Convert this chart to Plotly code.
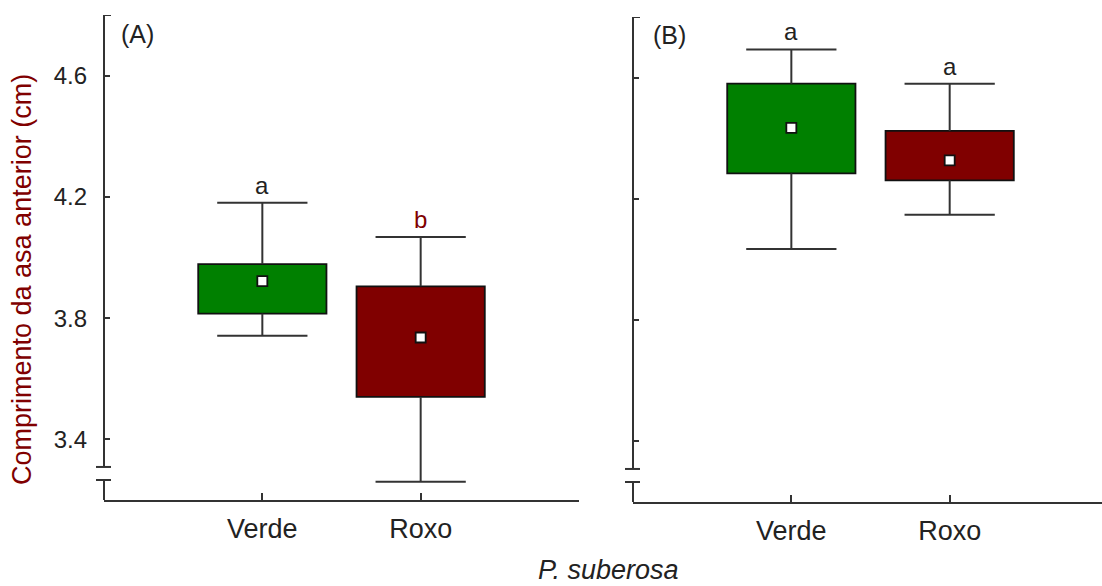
import plotly.graph_objects as go

# ---- data ----
categories = ["Verde", "Roxo"]
panels = ["(A)", "(B)"]
# panel A
a_whisk_low = [3.742, 3.260]
a_box_low = [3.815, 3.540]
a_mean = [3.922, 3.736]
a_box_high = [3.978, 3.905]
a_whisk_high = [4.181, 4.068]
a_letters = ["a", "b"]
# panel B
b_whisk_low = [4.035, 4.148]
b_box_low = [4.284, 4.261]
b_mean = [4.434, 4.327]
b_box_high = [4.580, 4.424]
b_whisk_high = [4.693, 4.580]
b_letters = ["a", "a"]

y_ticks = [3.4, 3.8, 4.2, 4.6]
y_range = [3.2, 4.8]
break_low, break_high = 3.266, 3.309

fills = ["#008000", "#800000"]
FONT = "Liberation Sans, Arial, sans-serif"
W, H = 1102, 586

fig = go.Figure()

box_w = 0.81
cap_half = 0.285
xpos = [0, 1]

panel_data = [
    (a_whisk_low, a_box_low, a_mean, a_box_high, a_whisk_high, a_letters, "x", "y"),
    (b_whisk_low, b_box_low, b_mean, b_box_high, b_whisk_high, b_letters, "x2", "y2"),
]

for (wl, bl, mn, bh, wh, letters, xa, ya) in panel_data:
    # whiskers
    for i, x in enumerate(xpos):
        xs = [x, x, None, x - cap_half, x + cap_half, None,
              x, x, None, x - cap_half, x + cap_half]
        ys = [bh[i], wh[i], None, wh[i], wh[i], None,
              bl[i], wl[i], None, wl[i], wl[i]]
        fig.add_trace(go.Scatter(x=xs, y=ys, mode="lines",
                                 line=dict(color="#333333", width=2),
                                 xaxis=xa, yaxis=ya, showlegend=False,
                                 hoverinfo="skip"))
    # boxes
    fig.add_trace(go.Bar(x=xpos, y=[h - l for h, l in zip(bh, bl)], base=bl,
                         width=box_w, marker=dict(color=fills, line=dict(color="#111111", width=1.8)),
                         xaxis=xa, yaxis=ya, showlegend=False))
    # means
    fig.add_trace(go.Scatter(x=xpos, y=mn, mode="markers",
                             marker=dict(symbol="square", size=10, color="white",
                                         line=dict(color="#111111", width=1.8)),
                             xaxis=xa, yaxis=ya, showlegend=False))
    # letters
    for i, x in enumerate(xpos):
        col = "#800000" if letters[i] == "b" else "#222222"
        fig.add_annotation(x=x, y=wh[i], xref=xa, yref=ya, text=letters[i],
                           showarrow=False, yanchor="bottom", yshift=2,
                           font=dict(family=FONT, size=24, color=col))

# layout geometry (pixels)
ax_left = [104, 633]
ax_right = [579, 1102]
ax_bottom = [500, 502]
ax_top = [15, 17]
xr_right = [2.0, (1102 - 792) / 158]

common_x = dict(range=[-1, 2], tickmode="array", tickvals=[-1, 0, 1, 2],
                ticktext=["", "Verde", "Roxo", ""], ticks="inside", ticklen=7,
                tickwidth=2, tickcolor="#333333", showline=True, linecolor="#333333",
                linewidth=2, showgrid=False, zeroline=False,
                tickfont=dict(family=FONT, size=27, color="#222222"),
                ticklabelstandoff=4)
common_y = dict(range=y_range, tickmode="array", tickvals=y_ticks,
                ticks="inside", ticklen=6, tickwidth=2, tickcolor="#333333",
                showline=False, showgrid=False, zeroline=False,
                tickfont=dict(family=FONT, size=24, color="#222222"),
                ticklabelstandoff=16)

fig.update_layout(
    width=W, height=H, margin=dict(l=0, r=0, t=0, b=0),
    paper_bgcolor="white", plot_bgcolor="white", barmode="overlay",
    xaxis=dict(common_x, domain=[ax_left[0] / W, ax_right[0] / W], anchor="y"),
    yaxis=dict(common_y, domain=[1 - ax_bottom[0] / H, 1 - ax_top[0] / H], anchor="x",
               ticktext=[str(t) for t in y_ticks]),
    xaxis2=dict(common_x, domain=[ax_left[1] / W, 1.0], anchor="y2",
                range=[-1, xr_right[1]]),
    yaxis2=dict(common_y, domain=[1 - ax_bottom[1] / H, 1 - ax_top[1] / H], anchor="x2",
                showticklabels=False),
)

# broken y axis lines
shapes = []
for k, (yr, px) in enumerate([("y", ax_left[0]), ("y2", ax_left[1])]):
    xp = px / W
    line = dict(color="#333333", width=2)
    shapes.append(dict(type="line", xref="paper", yref=yr, x0=xp, x1=xp,
                       y0=y_range[0], y1=break_low, line=line))
    shapes.append(dict(type="line", xref="paper", yref=yr, x0=xp, x1=xp,
                       y0=break_high, y1=y_range[1], line=line))
    for yb in (break_low, break_high):
        shapes.append(dict(type="line", xref="paper", yref=yr, x0=(px - 8) / W,
                           x1=(px + 7) / W, y0=yb, y1=yb, line=line))
    shapes.append(dict(type="line", xref="paper", yref=yr, x0=xp, x1=(px + 7) / W,
                       y0=y_range[1], y1=y_range[1], line=line))
fig.update_layout(shapes=shapes)

# panel labels
for lab, px, py in [(panels[0], 119, 34), (panels[1], 651, 35)]:
    fig.add_annotation(x=px / W, y=1 - py / H, xref="paper", yref="paper", text=lab,
                       showarrow=False, xanchor="left", yanchor="middle",
                       font=dict(family=FONT, size=25, color="#222222"))

# axis titles
fig.add_annotation(x=22 / W, y=1 - 280 / H, xref="paper", yref="paper",
                   text="Comprimento da asa anterior (cm)", textangle=-90,
                   showarrow=False, xanchor="center", yanchor="middle",
                   font=dict(family=FONT, size=27, color="#800000"))
fig.add_annotation(x=608 / W, y=1 - 570 / H, xref="paper", yref="paper",
                   text="<i>P. suberosa</i>", showarrow=False,
                   xanchor="center", yanchor="middle",
                   font=dict(family=FONT, size=27, color="#222222"))

fig.write_html("out.html")
